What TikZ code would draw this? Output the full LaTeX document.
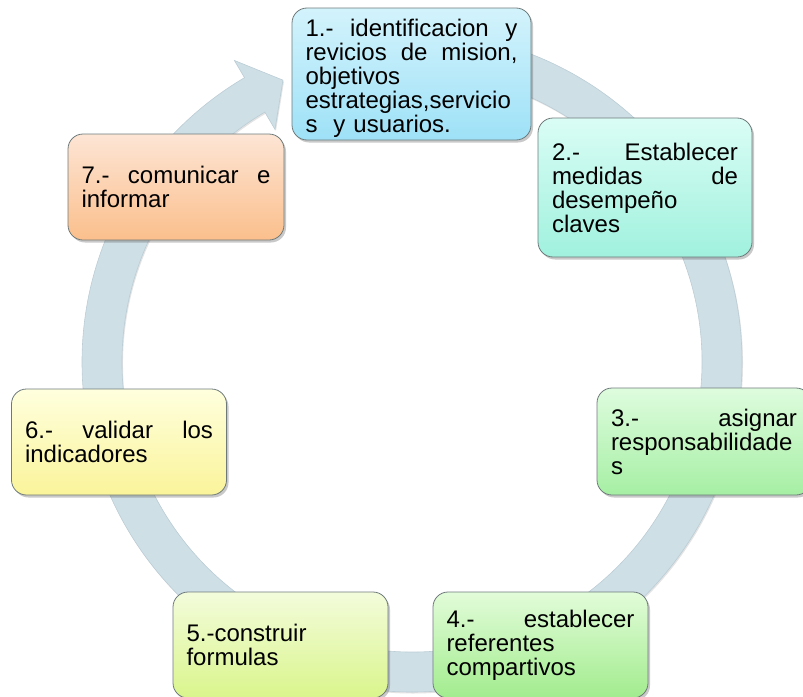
\documentclass[tikz,border=0pt]{standalone}
\usepackage{fontspec}
\setmainfont{Liberation Sans}
\usetikzlibrary{shadows}

% ring and box colours
\definecolor{ringfill}{HTML}{CFDFE6}
\definecolor{ringedge}{HTML}{BCCDD5}
\definecolor{boxedge}{HTML}{6E7A7A}
\definecolor{aTop}{HTML}{D3F3FC}\definecolor{aBot}{HTML}{9EE1F7}
\definecolor{bTop}{HTML}{DAFDF5}\definecolor{bBot}{HTML}{A0F1DE}
\definecolor{cTop}{HTML}{DEFCDE}\definecolor{cBot}{HTML}{A6EFA4}
\definecolor{dTop}{HTML}{E2FCD9}\definecolor{dBot}{HTML}{A2EC8E}
\definecolor{eTop}{HTML}{F3FCDB}\definecolor{eBot}{HTML}{DAF58C}
\definecolor{fTop}{HTML}{FFFFDE}\definecolor{fBot}{HTML}{FAF49A}
\definecolor{gTop}{HTML}{FDE5D5}\definecolor{gBot}{HTML}{FBBF8C}

\tikzset{
  cyclebox/.style={
    rectangle, rounded corners=15pt, draw=boxedge, line width=0.8pt,
    inner xsep=0pt, inner ysep=0pt, align=left,
    font=\fontsize{24}{24}\selectfont, text=black,
    drop shadow={shadow xshift=2pt, shadow yshift=-2.5pt, opacity=0.3, fill=black!70}},
  ringband/.style={fill=ringfill, draw=ringedge, line width=0.6pt,
    drop shadow={shadow xshift=1pt, shadow yshift=-1.5pt, opacity=0.18, fill=black!60}},
}

\begin{document}
\begin{tikzpicture}[x=1pt, y=-1pt]
\useasboundingbox (0,0) rectangle (803,696);
\clip (0,0) rectangle (803,696);

% circular arrow behind the steps
\begin{scope}[shift={(412,362)}]
  \path[ringband] (-90:330) arc[start angle=-90, end angle=239.5, radius=330]
    -- (239.5:350) -- (245.4:310) -- (239.5:270) -- (239.5:290)
    arc[start angle=239.5, end angle=-90, radius=290] -- cycle;
\end{scope}

% the seven steps
\node[cyclebox, top color=aTop, bottom color=aBot, minimum width=239pt, minimum height=132pt, text width=212pt]
  (n1) at (411.5,74) {\rule{0pt}{25.5pt}1.-\hfill identificacion\hfill y\\ revicios\hfill de\hfill mision,\\ objetivos\\ estrategias,servicio\\ s\ \ y usuarios.};
\node[cyclebox, top color=bTop, bottom color=bBot, minimum width=214pt, minimum height=139pt, text width=186pt]
  (n2) at (645,187.5) {2.-\hfill Establecer\\ medidas\hfill de\\ desempeño\\ claves};
\node[cyclebox, top color=cTop, bottom color=cBot, minimum width=214pt, minimum height=107pt, text width=186pt]
  (n3) at (704,441.5) {3.-\hfill asignar\\ responsabilidade\\ s};
\node[cyclebox, top color=dTop, bottom color=dBot, minimum width=215pt, minimum height=106pt, text width=188pt]
  (n4) at (540.5,645) {4.-\hfill establecer\\ referentes\\ compartivos};
\node[cyclebox, top color=eTop, bottom color=eBot, minimum width=215pt, minimum height=106pt, text width=188pt]
  (n5) at (280.5,645) {5.-construir\\ formulas};
\node[cyclebox, top color=fTop, bottom color=fBot, minimum width=215pt, minimum height=106pt, text width=188pt]
  (n6) at (119,442) {6.-\hfill validar\hfill los\\ indicadores};
\node[cyclebox, top color=gTop, bottom color=gBot, minimum width=216pt, minimum height=106pt, text width=189pt]
  (n7) at (176,187) {7.-\hfill comunicar\hfill e\\ informar};
\end{tikzpicture}
\end{document}
